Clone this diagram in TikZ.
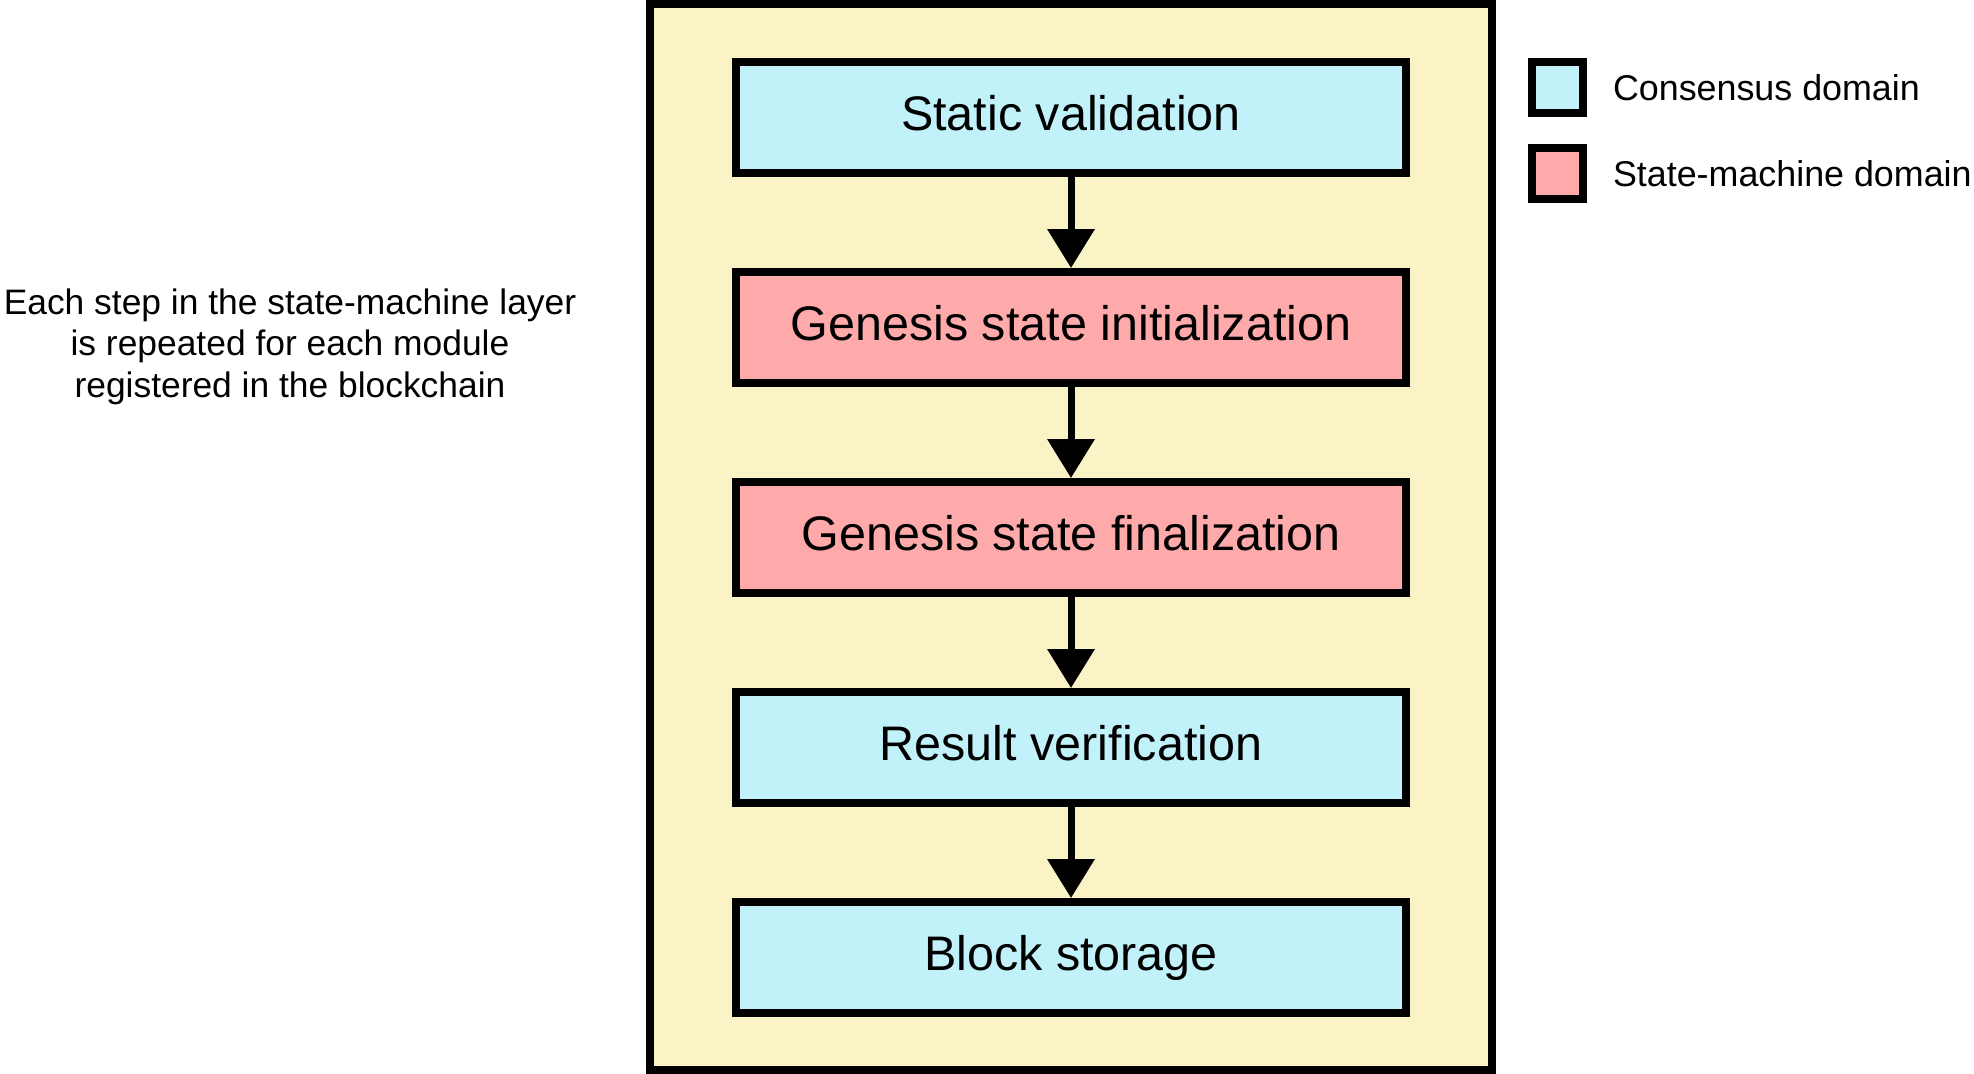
\documentclass[tikz,border=0pt]{standalone}
\usepackage{fontspec}
\setmainfont{Liberation Sans}
\usetikzlibrary{arrows.meta, positioning, calc}

\definecolor{consblue}{RGB}{193,241,249}
\definecolor{smpink}{RGB}{255,170,170}
\definecolor{layeryellow}{RGB}{250,243,197}

\begin{document}
\begin{tikzpicture}[every node/.style={outer sep=0pt}]
	\tikzstyle{block}=[
		draw,
		line width=0.08cm,
		minimum width=6.70cm,
		minimum height=1.11cm,
		text height=0.8em,
		text depth=0.084em,
		font=\fontsize{13.8}{16}\selectfont
	]
	\tikzstyle{consensus}=[block, fill=consblue]
	\tikzstyle{statemachine}=[block, fill=smpink]
	\tikzstyle{flow}=[
		line width=0.07cm,
		shorten >=0.04cm,
		-{Triangle[length=0.39cm, width=0.46cm]}
	]
	\tikzstyle{legendbox}=[
		draw,
		line width=0.08cm,
		minimum width=0.51cm,
		minimum height=0.51cm
	]
	\tikzstyle{legendtext}=[
		inner sep=0pt,
		font=\fontsize{10.2}{12}\selectfont
	]
	
	\useasboundingbox (0,0) rectangle (19.74,-10.74);
	
	% layer frame
	\draw [line width=0.08cm, fill=layeryellow] (6.50,-0.04) rectangle (14.92,-10.70);
	
	\node (static) at (10.71,-1.175) [consensus] {Static validation};
	\node (init) [statemachine, below=0.99cm of static] {Genesis state initialization};
	\node (final) [statemachine, below=0.99cm of init] {Genesis state finalization};
	\node (verify) [consensus, below=0.99cm of final] {Result verification};
	\node (storage) [consensus, below=0.99cm of verify] {Block storage};
	
	\foreach \a/\b in {static/init, init/final, final/verify, verify/storage}
		\draw [flow] (\a) -- (\b);
	
	% legend
	\node (legcons) at (15.575,-0.875) [legendbox, fill=consblue] {};
	\node (legsm) at (15.575,-1.735) [legendbox, fill=smpink] {};
	\node (legconstext) [legendtext, right=0.30cm of legcons] {Consensus domain};
	\node (legsmtext) [legendtext, right=0.30cm of legsm] {State-machine domain};
	
	\node (note) at (2.90,-3.465) [align=center, font=\fontsize{10.07}{11.8}\selectfont]
		{Each step in the state-machine layer\\is repeated for each module\\registered in the blockchain};
\end{tikzpicture}
\end{document}
